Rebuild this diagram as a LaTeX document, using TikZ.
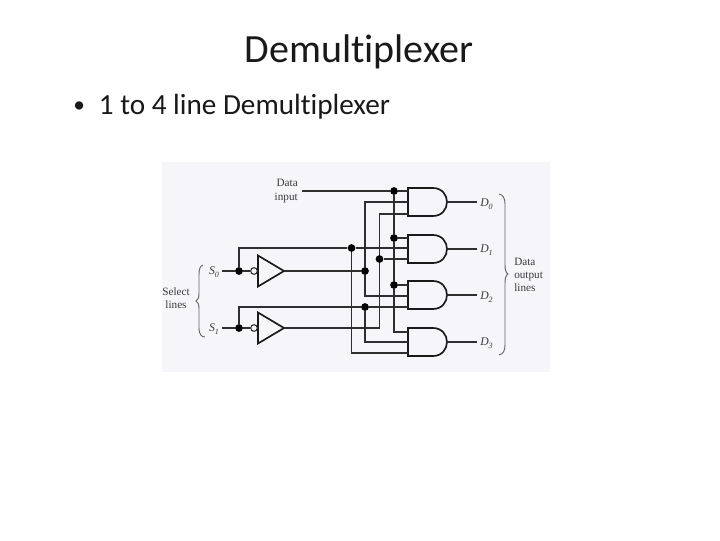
\documentclass[tikz,border=0pt]{standalone}
\usepackage{fontspec}
\setmainfont[RawFeature={-liga;-clig;-dlig}]{Carlito}
\newfontfamily\figfont{Liberation Serif}
\definecolor{panel}{HTML}{F5F5FA}
\definecolor{wirecol}{HTML}{2E2E2E}
\definecolor{labelcol}{HTML}{3A3A3A}
\tikzset{
  wire/.style={draw=wirecol,line width=0.95pt},
  gateline/.style={draw=black!90,line width=1.25pt,line join=miter},
  dotnode/.style={circle,fill=black,inner sep=0pt,minimum size=5.8pt},
  bubble/.style={circle,draw=wirecol,fill=panel,line width=0.8pt,inner sep=0pt,minimum size=5pt},
  figlabel/.style={font=\figfont\fontsize{8.4}{9.8}\selectfont,text=labelcol,inner sep=0pt,align=center},
  siglabel/.style={font=\figfont\itshape\fontsize{8.8}{9}\selectfont,text=labelcol,inner sep=0pt},
  bracepath/.style={draw=black!60,line width=0.7pt},
}
% \andgate{name}{top y}: AND gate with its output coordinate name-o
\newcommand{\andgate}[2]{%
  \draw[gateline] (433,#2) -- (408,#2) -- (408,#2+28) -- (433,#2+28)
    .. controls (442,#2+28) and (447,#2+21) .. (447,#2+14)
    .. controls (447,#2+7) and (442,#2) .. (433,#2);
  \coordinate (#1-o) at (447,#2+14);
}
% \buffgate{name}{centre y}
\newcommand{\buffgate}[2]{%
  \draw[gateline] (258,#2-15.5) -- (284,#2) -- (258,#2+15.5) -- cycle;
  \coordinate (#1-i) at (258,#2);
  \coordinate (#1-o) at (284,#2);
}
\begin{document}
\begin{tikzpicture}[x=0.75pt,y=-0.75pt]
\useasboundingbox (0,0) rectangle (720,540);
\fill[white] (0,0) rectangle (720,540);
\node[font=\fontsize{30}{34}\selectfont,text=black!90,inner sep=0pt] (title) at (359,52) {Demultiplexer};
\node[font=\fontsize{21.9}{26}\selectfont,text=black!90,inner sep=0pt,anchor=base west] (item) at (73,114) {\raisebox{1pt}{\scalebox{0.8}{•}}\hspace{10.5pt}1 to 4 line Demultiplexer};
\fill[panel] (162,162) rectangle (550,372);

% gates
\andgate{g0}{188}
\andgate{g1}{235}
\andgate{g2}{281}
\andgate{g3}{328}
\buffgate{b0}{271}
\buffgate{b1}{328}

% end coordinates
\coordinate (din) at (302,191);
\coordinate (s0) at (222,271);
\coordinate (s1) at (222,328);
\coordinate (g0a) at (408,191);
\coordinate (g0b) at (408,202);
\coordinate (g0c) at (408,214);
\coordinate (g1a) at (408,238);
\coordinate (g1b) at (408,248);
\coordinate (g1c) at (408,259);
\coordinate (g2a) at (408,285);
\coordinate (g2b) at (408,296);
\coordinate (g2c) at (408,307);
\coordinate (g3a) at (408,332);
\coordinate (g3b) at (408,342);
\coordinate (g3c) at (408,353);
\coordinate (d0e) at (477,202);
\coordinate (d1e) at (477,249);
\coordinate (d2e) at (477,295);
\coordinate (d3e) at (477,342);
\node[dotnode] (jd0) at (394,191) {};
\node[dotnode] (jd1) at (394,238) {};
\node[dotnode] (jd2) at (394,285) {};
\node[dotnode] (js0) at (239,271) {};
\node[dotnode] (js1) at (239,328) {};
\node[dotnode] (jn0) at (351.5,248) {};
\node[dotnode] (jt0) at (365,271) {};
\node[dotnode] (jn1) at (365,307) {};
\node[dotnode] (jt1) at (379.5,259) {};
\node[bubble] (bb0) at (254,271) {};
\node[bubble] (bb1) at (254,328) {};

% wires
\draw[wire] (din) -- (jd0) -- (g0a);
\draw[wire] (jd0) -- (jd1) -- (jd2) |- (g3a);
\draw[wire] (jd1) -- (g1a);
\draw[wire] (jd2) -- (g2a);
\draw[wire] (s0) -- (js0) -- (bb0);
\draw[wire] (s1) -- (js1) -- (bb1);
\draw[wire] (js0) |- (jn0);
\draw[wire] (jn0) -- (g1b);
\draw[wire] (jn0) |- (g3c);
\draw[wire] (js1) |- (jn1);
\draw[wire] (jn1) -- (g2c);
\draw[wire] (jn1) |- (g3b);
\draw[wire] (b0-o) -- (jt0);
\draw[wire] (jt0) |- (g0b);
\draw[wire] (jt0) |- (g2b);
\draw[wire] (b1-o) -| (jt1);
\draw[wire] (jt1) |- (g0c);
\draw[wire] (jt1) -- (g1c);
\draw[wire] (g0-o) -- (d0e);
\draw[wire] (g1-o) -- (d1e);
\draw[wire] (g2-o) -- (d2e);
\draw[wire] (g3-o) -- (d3e);

% braces
\draw[bracepath] (203,265) .. controls (200,266) and (199,269) .. (199,275) -- (199,293)
  .. controls (199,298) and (198,300) .. (196,301)
  .. controls (198,302) and (199,304) .. (199,309) -- (199,328)
  .. controls (199,335) and (202,337) .. (205,337);
\draw[bracepath] (499,194) .. controls (503,195) and (505,198) .. (505,204) -- (505,265)
  .. controls (505,270) and (506,273) .. (508,274)
  .. controls (506,275) and (505,278) .. (505,283) -- (505,345)
  .. controls (505,351) and (503,354) .. (499,355);

% labels
\node[figlabel,align=right,anchor=east] (ldin) at (298,191) {Data\\input};
\node[figlabel] (lsel) at (176,298) {Select\\lines};
\node[figlabel,align=left,anchor=west] (lout) at (514,274.5) {Data\\output\\lines};
\node[siglabel] (ls0) at (212,272) {S\rlap{\raisebox{-2pt}{\fontsize{6}{6}\selectfont 0}}};
\node[siglabel] (ls1) at (212,329) {S\rlap{\raisebox{-2pt}{\fontsize{6}{6}\selectfont 1}}};
\node[siglabel,anchor=west] (ld0) at (480,204) {D\rlap{\raisebox{-2pt}{\fontsize{6}{6}\selectfont 0}}};
\node[siglabel,anchor=west] (ld1) at (480,250) {D\rlap{\raisebox{-2pt}{\fontsize{6}{6}\selectfont 1}}};
\node[siglabel,anchor=west] (ld2) at (480,297) {D\rlap{\raisebox{-2pt}{\fontsize{6}{6}\selectfont 2}}};
\node[siglabel,anchor=west] (ld3) at (480,343) {D\rlap{\raisebox{-2pt}{\fontsize{6}{6}\selectfont 3}}};
\end{tikzpicture}
\end{document}
